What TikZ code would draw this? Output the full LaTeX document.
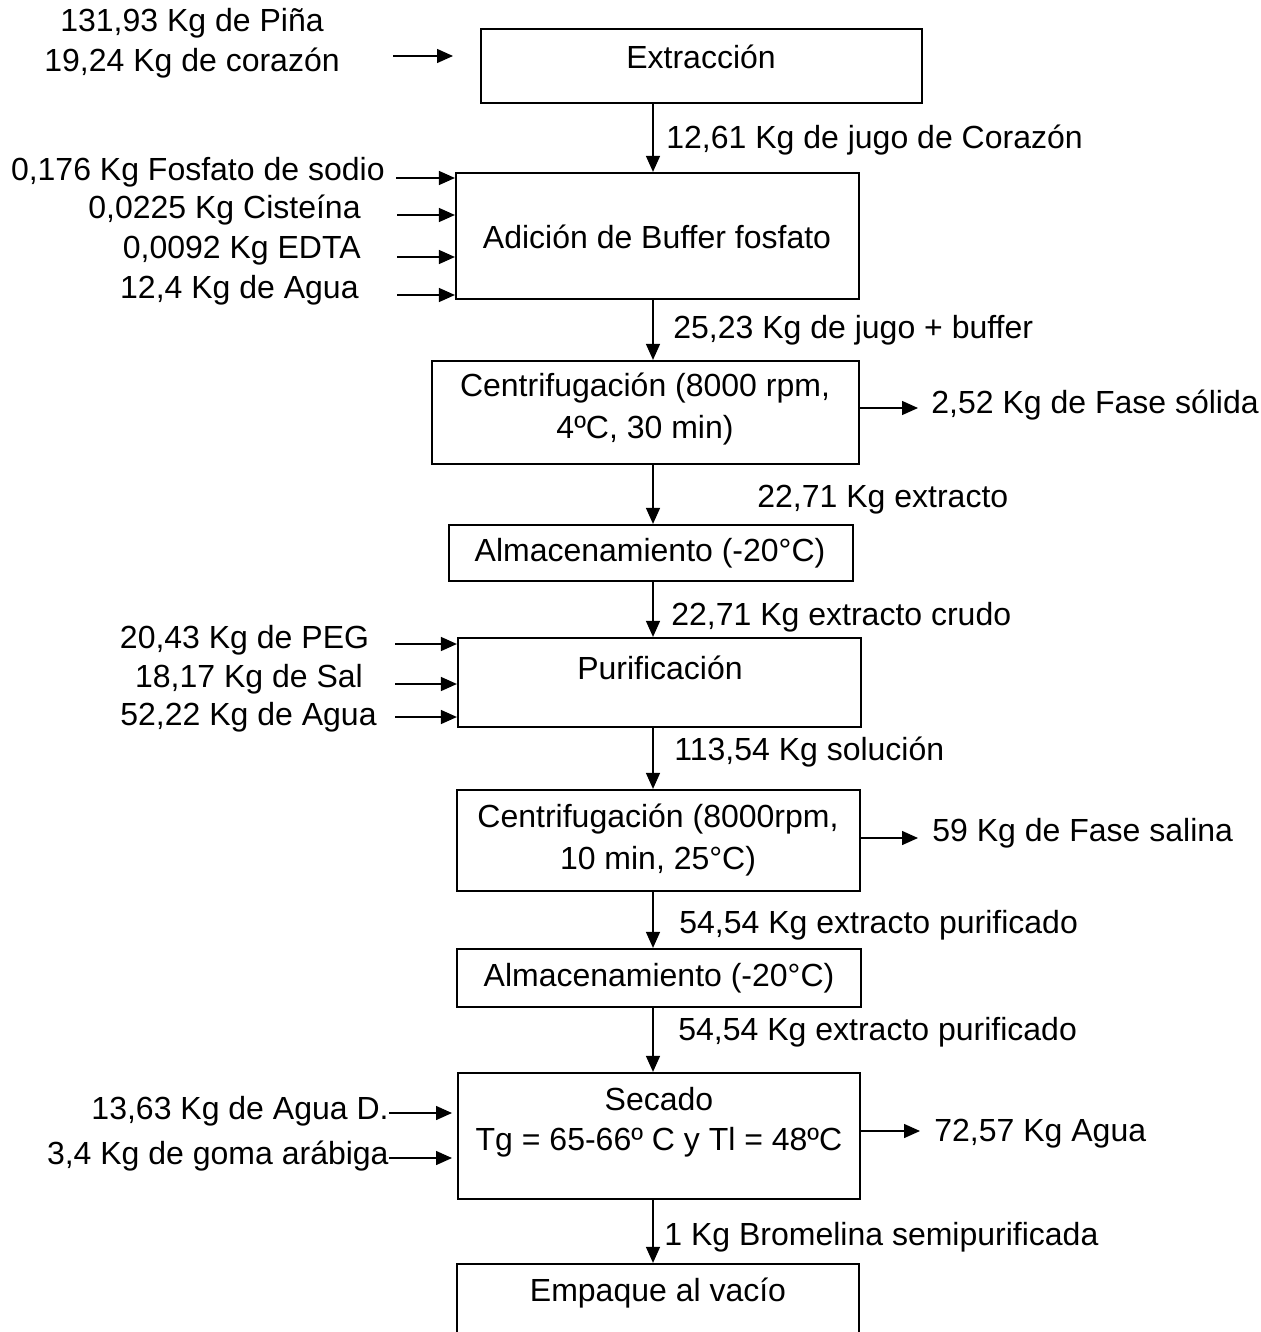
\documentclass[tikz,border=0pt]{standalone}
\usepackage{fontspec}
\setmainfont{Liberation Sans}
\usetikzlibrary{arrows.meta}
\begin{document}
\begin{tikzpicture}[x=0.5pt,y=-0.5pt,
  box/.style={draw, line width=1.1pt, inner sep=0pt, rectangle},
  txt/.style={inner sep=0pt, font=\fontsize{16}{21}\selectfont, align=center},
  arr/.style={line width=0.7pt, -{Triangle[length=8pt,width=7pt]}}]
\useasboundingbox (0,0) rectangle (1261,1332);
\clip (0,0) rectangle (1261,1332);
\fill[white] (0,0) rectangle (1261,1332);

% process boxes
\node[box, minimum width=220.5pt, minimum height=37pt] (b1) at (701.5,66) {};
\node[box, minimum width=201.5pt, minimum height=63pt] (b2) at (657.5,236) {};
\node[box, minimum width=213.5pt, minimum height=51.5pt] (b3) at (645.5,412.5) {};
\node[box, minimum width=202pt, minimum height=28pt] (b4) at (651,553) {};
\node[box, minimum width=201.5pt, minimum height=44.5pt] (b5) at (659.5,682.5) {};
\node[box, minimum width=201.5pt, minimum height=50.5pt] (b6) at (658.5,840.5) {};
\node[box, minimum width=202pt, minimum height=29pt] (b7) at (659,978) {};
\node[box, minimum width=201pt, minimum height=63pt] (b8) at (659,1136) {};
\node[box, minimum width=201pt, minimum height=60pt] (b9) at (658,1324) {};

% box texts
\node[txt] (t1) at (701,57) {Extracción};
\node[txt] (t2) at (657,237) {Adición de Buffer fosfato};
\node[txt] (t3) at (645,409) {Centrifugación (8000 rpm,\\4ºC, 30 min)};
\node[txt] (t4) at (650,553) {Almacenamiento (-20°C)};
\node[txt] (t5) at (660,668) {Purificación};
\node[txt] (t6) at (658,840) {Centrifugación (8000rpm,\\10 min, 25°C)};
\node[txt] (t7) at (659,978) {Almacenamiento (-20°C)};
\node[txt, font=\fontsize{16}{20}\selectfont] (t8) at (659,1122) {Secado\\Tg = 65-66º C y Tl = 48ºC};
\node[txt] (t9) at (658,1293) {Empaque al vacío};

% main flow
\coordinate (spine) at (653,0);
\draw[arr] (b1.south -| spine) -- (b2.north -| spine);
\draw[arr] (b2.south -| spine) -- (b3.north -| spine);
\draw[arr] (b3.south -| spine) -- (b4.north -| spine);
\draw[arr] (b4.south -| spine) -- (b5.north -| spine);
\draw[arr] (b5.south -| spine) -- (b6.north -| spine);
\draw[arr] (b6.south -| spine) -- (b7.north -| spine);
\draw[arr] (b7.south -| spine) -- (b8.north -| spine);
\draw[arr] (b8.south -| spine) -- (b9.north -| spine);

% flow labels
\node[txt, anchor=west] (l1) at (666,140) {12,61 Kg de jugo de Corazón};
\node[txt, anchor=west] (l2) at (673,330) {25,23 Kg de jugo + buffer};
\node[txt, anchor=west] (l3) at (757,500) {22,71 Kg extracto};
\node[txt, anchor=west] (l4) at (671,617) {22,71 Kg extracto crudo};
\node[txt, anchor=west] (l5) at (674,752) {113,54 Kg solución};
\node[txt, anchor=west] (l6) at (679,925) {54,54 Kg extracto purificado};
\node[txt, anchor=west] (l7) at (678,1032) {54,54 Kg extracto purificado};
\node[txt, anchor=west] (l8) at (664,1237) {1 Kg Bromelina semipurificada};

% input to Extracción
\node[txt, font=\fontsize{16}{20}\selectfont] (i0) at (192,43) {131,93 Kg de Piña\\19,24 Kg de corazón};
\coordinate (i0a) at (393,56);
\coordinate (i0b) at (453,56);
\draw[arr] (i0a) -- (i0b);

% inputs to Adición
\node[txt, anchor=east] (i1) at (385,172) {0,176 Kg Fosfato de sodio};
\node[txt, anchor=east] (i2) at (361,210) {0,0225 Kg Cisteína};
\node[txt, anchor=east] (i3) at (361,251) {0,0092 Kg EDTA};
\node[txt, anchor=east] (i4) at (359,290) {12,4 Kg de Agua};
\coordinate (i1a) at (396,178);
\coordinate (i2a) at (397,215);
\coordinate (i3a) at (397,257);
\coordinate (i4a) at (397,295);
\draw[arr] (i1a) -- (i1a -| b2.west);
\draw[arr] (i2a) -- (i2a -| b2.west);
\draw[arr] (i3a) -- (i3a -| b2.west);
\draw[arr] (i4a) -- (i4a -| b2.west);

% inputs to Purificación
\node[txt] (p1) at (244.5,640) {20,43 Kg de PEG};
\node[txt] (p2) at (249,679) {18,17 Kg de Sal};
\node[txt] (p3) at (248.5,717) {52,22 Kg de Agua};
\coordinate (p1a) at (395,644);
\coordinate (p2a) at (395,684);
\coordinate (p3a) at (395,717);
\draw[arr] (p1a) -- (p1a -| b5.west);
\draw[arr] (p2a) -- (p2a -| b5.west);
\draw[arr] (p3a) -- (p3a -| b5.west);

% inputs to Secado
\node[txt, anchor=east] (s1) at (389,1111) {13,63 Kg de Agua D.};
\node[txt, anchor=east] (s2) at (389,1156) {3,4 Kg de goma arábiga};
\coordinate (s1a) at (389,1113);
\coordinate (s1b) at (452,1113);
\coordinate (s2a) at (389,1158);
\coordinate (s2b) at (452,1158);
\draw[arr] (s1a) -- (s1b);
\draw[arr] (s2a) -- (s2b);

% outputs
\coordinate (o1b) at (918,408);
\coordinate (o2b) at (918,838);
\coordinate (o3b) at (920,1131);
\draw[arr] (o1b -| b3.east) -- (o1b);
\draw[arr] (o2b -| b6.east) -- (o2b);
\draw[arr] (o3b -| b8.east) -- (o3b);
\node[txt, anchor=west] (o1) at (931,405) {2,52 Kg de Fase sólida};
\node[txt, anchor=west] (o2) at (932,833) {59 Kg de Fase salina};
\node[txt, anchor=west] (o3) at (934,1134) {72,57 Kg Agua};
\end{tikzpicture}
\end{document}
